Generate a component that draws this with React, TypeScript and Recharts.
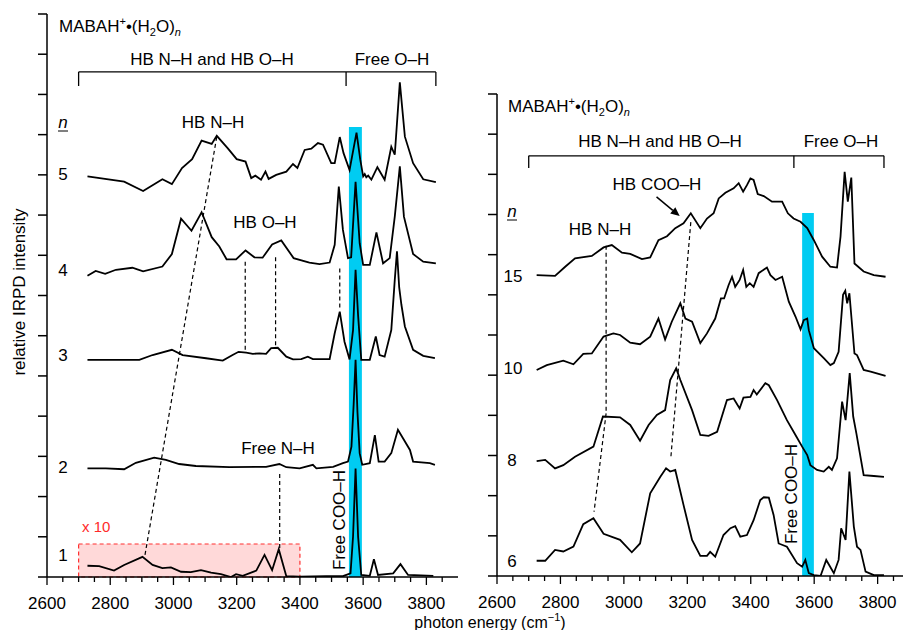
import React from 'react';
import { LineChart, Line, XAxis, YAxis, ReferenceArea, ReferenceLine } from 'recharts';

// --- spectra, [wavenumber, stacked intensity] ---
const n5 = [[2728,9.96],[2844,9.83],[2904,9.6],[2965,9.89],[2995,9.77],[3027,10.17],[3059,10.39],[3089,10.85],[3121,10.77],[3137,10.97],[3172,10.66],[3200,10.39],[3228,10.33],[3246,9.92],[3259,9.98],[3277,9.88],[3291,10.08],[3301,9.9],[3325,10.0],[3357,10.08],[3378,10.27],[3392,10.17],[3415,10.62],[3436,10.65],[3457,10.79],[3473,10.75],[3499,10.29],[3510,10.29],[3526,10.94],[3538,10.54],[3557,10.12],[3579,11.05],[3591,10.37],[3600,9.96],[3605,10.02],[3610,9.94],[3616,9.98],[3626,9.88],[3645,10.19],[3668,9.88],[3689,10.7],[3700,10.5],[3716,12.3],[3732,10.95],[3758,10.29],[3790,9.89],[3830,9.82]];
const n4 = [[2728,7.49],[2754,7.61],[2784,7.54],[2818,7.64],[2870,7.69],[2904,7.6],[2965,7.72],[2995,8.03],[3024,8.91],[3057,8.61],[3089,9.07],[3121,8.45],[3145,8.22],[3168,7.9],[3198,7.9],[3228,8.12],[3256,7.95],[3282,7.94],[3312,8.27],[3341,8.37],[3380,7.93],[3430,7.82],[3462,7.78],[3494,7.82],[3510,8.26],[3523,9.71],[3536,8.63],[3552,7.93],[3562,7.95],[3576,9.83],[3589,8.3],[3600,7.76],[3621,7.76],[3642,8.57],[3663,7.8],[3684,7.93],[3700,8.96],[3716,10.21],[3729,8.96],[3758,8.03],[3790,7.84],[3830,7.8]];
const n3 = [[2728,5.4],[2892,5.4],[2934,5.52],[2995,5.65],[3029,5.52],[3103,5.44],[3156,5.38],[3187,5.52],[3206,5.6],[3230,5.58],[3251,5.55],[3272,5.56],[3293,5.55],[3309,5.69],[3330,5.7],[3357,5.48],[3378,5.41],[3404,5.42],[3425,5.48],[3441,5.42],[3494,5.42],[3510,6.06],[3526,6.6],[3541,5.85],[3557,5.41],[3568,6.14],[3576,7.64],[3584,6.5],[3594,5.4],[3621,5.4],[3640,5.98],[3652,5.52],[3668,5.48],[3689,6.14],[3700,7.39],[3707,8.1],[3714,7.2],[3721,6.77],[3732,6.23],[3758,5.65],[3790,5.5],[3827,5.44]];
const n2 = [[2728,2.7],[2786,2.7],[2844,2.68],[2881,2.84],[2939,2.97],[2976,2.91],[3018,2.81],[3071,2.76],[3177,2.73],[3293,2.74],[3335,2.81],[3357,2.73],[3399,2.7],[3441,2.79],[3452,2.7],[3505,2.74],[3536,2.83],[3552,2.87],[3563,3.24],[3570,4.3],[3576,5.4],[3582,4.1],[3589,3.08],[3597,2.79],[3621,2.83],[3637,3.53],[3649,2.87],[3668,2.87],[3689,3.08],[3710,3.66],[3726,3.45],[3748,3.16],[3758,2.87],[3811,2.83],[3827,2.79]];
const n1 = [[2728,0.28],[2765,0.27],[2812,0.16],[2844,0.3],[2902,0.5],[2934,0.3],[2965,0.22],[2992,0.24],[3024,0.13],[3055,0.12],[3087,0.17],[3119,0.11],[3150,0.07],[3182,0.0],[3198,0.07],[3219,0.03],[3262,0.16],[3288,0.55],[3312,0.17],[3333,0.69],[3357,0.02],[3399,0.01],[3483,0.02],[3536,0.02],[3560,0.09],[3568,1.0],[3576,2.7],[3584,1.0],[3594,0.05],[3621,0.03],[3634,0.44],[3647,0.05],[3695,0.09],[3718,0.32],[3742,0.05],[3822,0.03]];

const n15 = [[2725,7.49],[2783,7.47],[2815,7.7],[2846,7.91],[2899,7.97],[2936,8.18],[2962,8.24],[2994,8.05],[3020,8.02],[3057,7.89],[3083,7.93],[3109,8.36],[3136,8.46],[3162,8.66],[3188,8.78],[3211,9.03],[3241,8.66],[3262,8.9],[3283,9.03],[3299,9.4],[3320,9.54],[3346,9.65],[3362,9.78],[3376,9.57],[3388,9.73],[3399,9.9],[3409,9.86],[3422,9.51],[3441,9.46],[3467,9.32],[3477,9.32],[3499,9.32],[3517,9.03],[3535,8.9],[3557,8.82],[3578,8.66],[3599,8.36],[3625,7.95],[3651,7.7],[3672,7.68],[3683,8.45],[3696,10.06],[3706,9.32],[3717,9.92],[3727,7.78],[3756,7.58],[3788,7.49],[3825,7.45]];
const n10 = [[2725,5.13],[2757,5.25],[2809,5.36],[2841,5.27],[2872,5.53],[2899,5.54],[2936,5.96],[2967,6.04],[2988,6.0],[3020,5.81],[3051,5.77],[3083,5.96],[3109,6.41],[3130,5.89],[3151,6.33],[3178,6.79],[3194,6.41],[3215,6.33],[3241,5.8],[3262,6.04],[3288,6.41],[3306,6.91],[3316,6.91],[3330,7.24],[3341,7.45],[3351,7.2],[3365,7.37],[3376,7.62],[3386,7.2],[3397,7.29],[3409,7.2],[3425,7.54],[3451,7.68],[3462,7.49],[3478,7.37],[3499,7.45],[3520,6.83],[3541,6.46],[3557,6.14],[3567,6.37],[3578,6.41],[3583,6.12],[3599,5.67],[3631,5.42],[3651,5.25],[3662,5.3],[3677,5.58],[3691,7.0],[3698,7.1],[3704,6.79],[3711,7.04],[3727,5.54],[3735,5.5],[3756,5.13],[3778,5.09],[3825,4.98]];
const n8 = [[2725,2.86],[2752,2.89],[2783,2.68],[2809,2.76],[2846,2.97],[2904,3.22],[2934,3.97],[2988,3.95],[3020,3.76],[3051,3.37],[3078,3.76],[3104,4.01],[3130,4.13],[3146,4.88],[3165,5.17],[3178,4.88],[3215,4.13],[3241,3.51],[3267,3.49],[3294,3.59],[3325,4.38],[3346,4.42],[3365,4.17],[3377,4.44],[3399,4.46],[3409,4.63],[3419,4.52],[3446,4.8],[3457,4.75],[3483,4.38],[3514,3.88],[3541,3.51],[3562,3.22],[3578,3.01],[3588,2.76],[3609,2.64],[3630,2.6],[3646,2.72],[3656,2.64],[3672,2.93],[3688,4.34],[3699,3.88],[3712,5.05],[3723,3.97],[3733,3.55],[3756,2.51],[3788,2.49],[3820,2.47]];
const n6 = [[2725,0.38],[2752,0.38],[2783,0.65],[2809,0.61],[2841,0.73],[2872,1.29],[2904,1.44],[2936,1.05],[2988,0.9],[3025,0.59],[3051,0.81],[3083,2.06],[3115,2.47],[3133,2.68],[3146,2.6],[3162,2.64],[3188,1.77],[3215,0.9],[3241,0.5],[3262,0.5],[3272,0.6],[3288,0.48],[3314,1.02],[3336,1.19],[3351,1.24],[3367,0.98],[3388,1.02],[3409,1.39],[3430,1.89],[3441,1.96],[3457,1.95],[3472,1.52],[3488,0.81],[3514,0.73],[3546,0.32],[3562,0.23],[3572,0.4],[3583,0.07],[3599,0.02],[3620,0.0],[3638,0.4],[3662,0.07],[3677,0.4],[3685,1.19],[3699,0.9],[3711,2.6],[3725,1.23],[3735,0.73],[3746,0.65],[3762,0.11],[3788,0.02],[3820,0.02]];

const leftTraces = [n5, n4, n3, n2, n1];
const rightTraces = [n15, n10, n8, n6];

const xTicksLeft = [2600,2650,2700,2750,2800,2850,2900,2950,3000,3050,3100,3150,3200,3250,3300,3350,3400,3450,3500,3550,3600,3650,3700,3750,3800,3850];
const xTicksRight = xTicksLeft;
const yTicksLeft = [0,1,2,3,4,5,6,7,8,9,10,11,12,13,14];
const yTicksRight = [0,1,2,3,4,5,6,7,8,9,10,11,12];

// dashed guide lines [[x1,y1],[x2,y2]]
const guidesLeft = [
  [[2910,0.55],[3137,10.95]],
  [[3336,0.72],[3336,2.62]],
  [[3227,5.65],[3227,7.9]],
  [[3323,5.76],[3323,7.95]],
  [[3526,6.7],[3526,7.7]],
];
const guidesRight = [
  [[2944,8.22],[2944,4.05]],
  [[2944,4.05],[2906,1.6]],
  [[3211,8.81],[3148,2.94]],
];

const FONT = '"Liberation Sans", Arial, Helvetica, sans-serif';
const toRows = (pts: number[][]) => pts.map(([x, y]) => ({ x, y }));

const XTick = (props: any) => {
  const { x, y, payload } = props;
  const v = payload.value;
  const major = v % 200 === 0;
  return (
    <g>
      <line x1={x} y1={y} x2={x} y2={y + (major ? 8 : 5)} stroke="#000" strokeWidth={1.3} />
      {major && (
        <text x={x} y={y + 32} textAnchor="middle" fontSize={17} fontFamily={FONT} fill="#000">{v}</text>
      )}
    </g>
  );
};

// y ticks: marks only, no labels
const YTick = (props: any) => {
  const { x, y } = props;
  return <line x1={x - 9} y1={y} x2={x} y2={y} stroke="#000" strokeWidth={1.5} />;
};

const seg = (g: number[][]) => [{ x: g[0][0], y: g[0][1] }, { x: g[1][0], y: g[1][1] }];

const ArrowShape = (props: any) => {
  const { x1, y1, x2, y2 } = props;
  const a = Math.atan2(y2 - y1, x2 - x1);
  const L = 9, W = 4;
  const bx = x2 - L * Math.cos(a), by = y2 - L * Math.sin(a);
  const p1 = `${bx + W * Math.sin(a)},${by - W * Math.cos(a)}`;
  const p2 = `${bx - W * Math.sin(a)},${by + W * Math.cos(a)}`;
  return (
    <g>
      <line x1={x1} y1={y1} x2={bx} y2={by} stroke="#000" strokeWidth={1.5} />
      <polygon points={`${x2},${y2} ${p1} ${p2}`} fill="#000" />
    </g>
  );
};

const Mabah = ({ x, y }: { x: number; y: number }) => (
  <text x={x} y={y} fontSize={17} fontFamily={FONT} fill="#000">
    MABAH<tspan fontSize={11} dy={-7}>+</tspan>
    <tspan dy={7}>•(H</tspan>
    <tspan fontSize={11} dy={4}>2</tspan>
    <tspan dy={-4}>O)</tspan>
    <tspan fontSize={11} dy={4} fontStyle="italic">n</tspan>
  </text>
);

const T = ({ x, y, children, anchor = 'middle', size = 17, fill = '#000' }: any) => (
  <text x={x} y={y} textAnchor={anchor} fontSize={size} fontFamily={FONT} fill={fill}>{children}</text>
);

export default function App() {
  const axisStyle = { stroke: '#000', strokeWidth: 1.5 };
  return (
    <div style={{ position: 'absolute', left: 0, top: 0, width: 903, height: 630, background: '#fff', overflow: 'hidden' }}>
      <div style={{ position: 'absolute', left: 0, top: 0 }}>
        <LineChart width={470} height={630} margin={{ top: 14, right: 12, left: 37, bottom: 0 }}>
          <XAxis type="number" dataKey="x" domain={[2600, 3900]} ticks={xTicksLeft} interval={0}
            tick={<XTick />} tickLine={false} tickSize={0} tickMargin={0} height={53} axisLine={axisStyle} allowDataOverflow />
          <YAxis type="number" dataKey="y" domain={[0, 14]} ticks={yTicksLeft} interval={0} tick={<YTick />}
            tickLine={false} tickSize={0} tickMargin={0} width={10} axisLine={axisStyle} allowDataOverflow />
          <ReferenceArea x1={3555} x2={3596} y1={0} y2={11.19} fill="#00CCF2" fillOpacity={1} stroke="none" />
          {leftTraces.map((t, i) => (
            <Line key={i} data={toRows(t)} dataKey="y" type="linear" stroke="#000" strokeWidth={1.8}
              dot={false} activeDot={false} isAnimationActive={false} />
          ))}
          <ReferenceArea x1={2700} x2={3400} y1={0} y2={0.82} fill="#ff2020" fillOpacity={0.17}
            stroke="#ff3030" strokeDasharray="4 3" strokeWidth={1.2} />
          {guidesLeft.map((g, i) => (
            <ReferenceLine key={'g' + i} segment={seg(g)} stroke="#000" strokeWidth={1.2} strokeDasharray="4 3" />
          ))}
          <ReferenceLine segment={[{ x: 2700, y: 12.56 }, { x: 3830, y: 12.56 }]} stroke="#000" strokeWidth={1.3} />
          <ReferenceLine segment={[{ x: 2700, y: 12.21 }, { x: 2700, y: 12.56 }]} stroke="#000" strokeWidth={1.3} />
          <ReferenceLine segment={[{ x: 3546, y: 12.21 }, { x: 3546, y: 12.56 }]} stroke="#000" strokeWidth={1.3} />
          <ReferenceLine segment={[{ x: 3830, y: 12.21 }, { x: 3830, y: 12.56 }]} stroke="#000" strokeWidth={1.3} />
        </LineChart>
      </div>
      <div style={{ position: 'absolute', left: 470, top: 0 }}>
        <LineChart width={433} height={630} margin={{ top: 94, right: 0, left: 17, bottom: 0 }}>
          <XAxis type="number" dataKey="x" domain={[2600, 3880]} ticks={xTicksRight} interval={0}
            tick={<XTick />} tickLine={false} tickSize={0} tickMargin={0} height={54} axisLine={axisStyle} allowDataOverflow />
          <YAxis type="number" dataKey="y" domain={[0, 12]} ticks={yTicksRight} interval={0} tick={<YTick />}
            tickLine={false} tickSize={0} tickMargin={0} width={10} axisLine={axisStyle} allowDataOverflow />
          <ReferenceArea x1={3562} x2={3599} y1={0} y2={9.04} fill="#00CCF2" fillOpacity={1} stroke="none" />
          {rightTraces.map((t, i) => (
            <Line key={i} data={toRows(t)} dataKey="y" type="linear" stroke="#000" strokeWidth={1.8}
              dot={false} activeDot={false} isAnimationActive={false} />
          ))}
          {guidesRight.map((g, i) => (
            <ReferenceLine key={'g' + i} segment={seg(g)} stroke="#000" strokeWidth={1.2} strokeDasharray="4 3" />
          ))}
          <ReferenceLine segment={[{ x: 3103, y: 9.44 }, { x: 3176, y: 8.96 }]} shape={<ArrowShape />} />
          <ReferenceLine segment={[{ x: 2700, y: 10.46 }, { x: 3820, y: 10.46 }]} stroke="#000" strokeWidth={1.3} />
          <ReferenceLine segment={[{ x: 2700, y: 10.16 }, { x: 2700, y: 10.46 }]} stroke="#000" strokeWidth={1.3} />
          <ReferenceLine segment={[{ x: 3536, y: 10.16 }, { x: 3536, y: 10.46 }]} stroke="#000" strokeWidth={1.3} />
          <ReferenceLine segment={[{ x: 3820, y: 10.16 }, { x: 3820, y: 10.46 }]} stroke="#000" strokeWidth={1.3} />
        </LineChart>
      </div>
      <svg width={903} height={630} style={{ position: 'absolute', left: 0, top: 0, pointerEvents: 'none' }}>
        {/* left panel */}
        <Mabah x={59} y={32} />
        <T x={212} y={65}>HB N–H and HB O–H</T>
        <T x={392} y={65}>Free O–H</T>
        <text x={63} y={128} textAnchor="middle" fontSize={17} fontStyle="italic" fontFamily={FONT}>n</text>
        <line x1={58} y1={131} x2={68} y2={131} stroke="#000" strokeWidth={1} />
        <T x={213} y={128}>HB N–H</T>
        <T x={265} y={228}>HB O–H</T>
        <T x={278} y={454}>Free N–H</T>
        <T x={63} y={180}>5</T>
        <T x={63} y={276}>4</T>
        <T x={63} y={361}>3</T>
        <T x={63} y={473}>2</T>
        <T x={63} y={561}>1</T>
        <T x={82} y={532} anchor="start" size={15} fill="#ff2a2a">x 10</T>
        <text transform="translate(345,520) rotate(-90)" textAnchor="middle" fontSize={17} fontFamily={FONT}>Free COO–H</text>
        {/* right panel */}
        <Mabah x={508} y={112} />
        <T x={660} y={147}>HB N–H and HB O–H</T>
        <T x={841} y={147}>Free O–H</T>
        <text x={512} y={217} textAnchor="middle" fontSize={17} fontStyle="italic" fontFamily={FONT}>n</text>
        <line x1={507} y1={220} x2={517} y2={220} stroke="#000" strokeWidth={1} />
        <T x={657} y={190}>HB COO–H</T>
        <T x={600} y={235}>HB N–H</T>
        <T x={513} y={282}>15</T>
        <T x={513} y={374}>10</T>
        <T x={512} y={466}>8</T>
        <T x={512} y={567}>6</T>
        <text transform="translate(797,494) rotate(-90)" textAnchor="middle" fontSize={17} fontFamily={FONT}>Free COO–H</text>
        {/* axis titles */}
        <text transform="translate(25,292) rotate(-90)" textAnchor="middle" fontSize={17} fontFamily={FONT}>relative IRPD intensity</text>
        <text x={490} y={628} textAnchor="middle" fontSize={16} fontFamily={FONT}>
          photon energy (cm<tspan fontSize={11} dy={-7}>−1</tspan><tspan dy={7}>)</tspan>
        </text>
      </svg>
    </div>
  );
}
